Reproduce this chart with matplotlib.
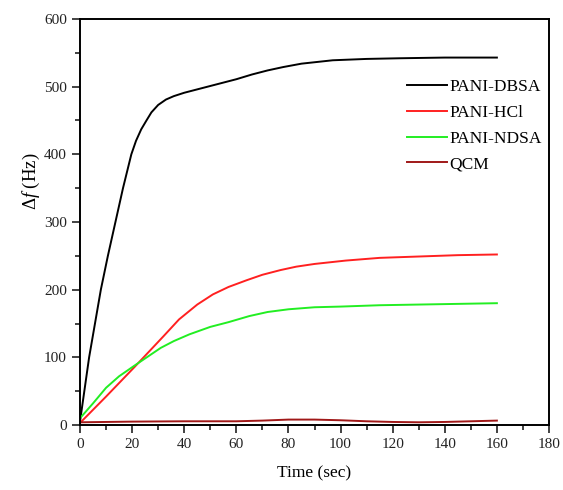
import numpy as np
import matplotlib
matplotlib.use('Agg')
import matplotlib.pyplot as plt
from matplotlib.ticker import MultipleLocator

plt.rcParams['font.family'] = ['Liberation Serif', 'DejaVu Serif']
plt.rcParams['mathtext.fontset'] = 'custom'
plt.rcParams['mathtext.rm'] = 'Liberation Serif'
plt.rcParams['mathtext.it'] = 'Liberation Serif:italic'

# --- data ---
dbsa_t = [0, 3.5, 8, 10.7, 13.6, 16.5, 19.7, 21.5, 23.5, 25.5, 27.4, 30, 33, 36, 40, 46, 53, 60, 66, 72, 78, 85, 97, 110, 123, 140, 160]
dbsa_f = [5, 100, 200, 250, 300, 350, 400, 420, 437, 450, 462, 473, 481, 486, 491, 497, 504, 511, 518, 524, 529, 534, 539, 541, 542, 543, 543]

hcl_t = [0, 10, 21, 32, 38, 45, 51, 57, 64, 70, 77, 83, 90, 102, 115, 130, 145, 160]
hcl_f = [3, 42, 86, 131, 156, 178, 193, 204, 214, 222, 229, 234, 238, 243, 247, 249, 251, 252]

ndsa_t = [0, 5, 10, 15, 21, 26, 31, 36, 42, 50, 57, 65, 72, 80, 90, 100, 115, 130, 145, 160]
ndsa_f = [10, 32, 55, 72, 88, 101, 114, 124, 134, 145, 152, 161, 167, 171, 174, 175, 177, 178, 179, 180]

qcm_t = [0, 20, 40, 60, 70, 80, 90, 100, 110, 120, 130, 140, 150, 160]
qcm_f = [4, 5, 5.5, 5.5, 6.5, 8, 8, 7, 5.5, 4.5, 4, 4.5, 5.5, 6.5]

fig = plt.figure(figsize=(5.63, 4.90), dpi=100)
ax = fig.add_axes([80 / 563, 1 - 425 / 490, 469 / 563, 406 / 490])

style = dict(lw=1.4, solid_joinstyle='round')
ax.plot(dbsa_t, dbsa_f, color='black', label='PANI-DBSA', **style)
ax.plot(hcl_t, hcl_f, color='#ff2020', label='PANI-HCl', **style)
ax.plot(ndsa_t, ndsa_f, color='#22ee22', label='PANI-NDSA', **style)
ax.plot(qcm_t, qcm_f, color='#a01818', label='QCM', **style)

ax.set_xlim(0, 180)
ax.set_ylim(0, 600)
ax.xaxis.set_major_locator(MultipleLocator(20))
ax.xaxis.set_minor_locator(MultipleLocator(10))
ax.yaxis.set_major_locator(MultipleLocator(100))
ax.yaxis.set_minor_locator(MultipleLocator(50))
ax.tick_params(which='both', direction='out', width=1.2, labelsize=11, colors='#222222')
ax.tick_params(which='major', length=6)
ax.tick_params(which='minor', length=3.5)
for s in ax.spines.values():
    s.set_linewidth(1.4)

ax.set_xlabel('Time (sec)', fontsize=12.5, labelpad=10)
ax.set_ylabel(r'$\mathit{Δf}$ (Hz)', fontsize=13.5)
ax.yaxis.set_label_coords(-0.08, 0.6)

ax.legend(loc='upper left', bbox_to_anchor=(0.698, 0.852), frameon=False,
          fontsize=12.5, handlelength=2.3, handletextpad=0.1, labelspacing=0.55,
          borderpad=0, borderaxespad=0)

fig.savefig('out.png', dpi=100)
